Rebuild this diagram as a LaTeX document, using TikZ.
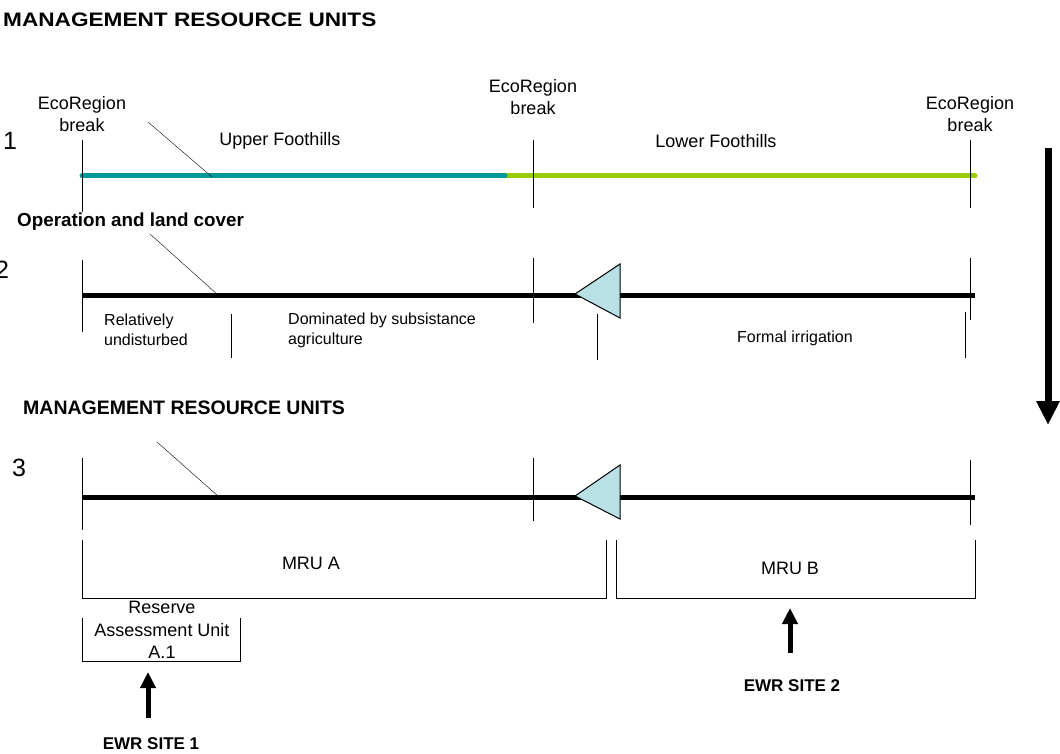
\documentclass[tikz,border=0pt]{standalone}
\usepackage{fontspec}
\setmainfont{Liberation Sans}
\usepackage{graphicx}
\usetikzlibrary{arrows.meta, positioning}

\definecolor{ecoteal}{RGB}{0,153,153}
\definecolor{ecogreen}{RGB}{153,204,0}
\definecolor{weirblue}{RGB}{185,224,228}

\tikzset{
  lbl/.style={inner sep=0pt, font=\fontsize{18}{22.5}\selectfont, align=center},
  small/.style={inner sep=0pt, font=\fontsize{16}{20}\selectfont, align=left, anchor=west},
  head/.style={inner sep=0pt, font=\fontsize{19.5}{23}\selectfont\bfseries, anchor=west},
  sitelbl/.style={inner sep=0pt, font=\fontsize{17}{20}\selectfont\bfseries},
  rownum/.style={inner sep=0pt, font=\fontsize{25}{30}\selectfont},
  tick/.style={line width=1pt},
  river/.style={line width=5pt},
  weir/.style={draw=black, line width=1pt, fill=weirblue},
  bracket/.style={line width=1pt},
  site/.style={line width=5pt, -{Triangle[width=15pt,length=16pt]}}
}

\begin{document}
\begin{tikzpicture}[x=1pt, y=-1pt]
\useasboundingbox (0,0) rectangle (1060,754);

        % Labels
        \node[head] at (3, 20)        (title1)  {\scalebox{1.16}[1]{MANAGEMENT RESOURCE UNITS}};
        \node[rownum] at (10, 141)    (num1)    {1};
        \node[lbl] at (82, 114)       (eco1)    {EcoRegion\\break};
        \node[lbl] at (533, 97)       (eco2)    {EcoRegion\\break};
        \node[lbl] at (970, 114)      (eco3)    {EcoRegion\\break};
        \node[lbl] at (280, 141)      (upper)   {Upper Foothills};
        \node[lbl] at (716, 141)      (lower)   {Lower Foothills};
        \node[head, font=\fontsize{18.8}{22}\selectfont\bfseries] at (17, 222) (opland) {Operation and land cover};
        \node[rownum] at (2, 270)     (num2)    {2};
        \node[small] at (104, 330)    (reldist) {Relatively\\undisturbed};
        \node[small] at (288, 330)    (domin)   {Dominated by subsistance\\agriculture};
        \node[small, anchor=center] at (795, 338) (formal) {Formal irrigation};
        \node[head] at (23, 408)      (title2)  {MANAGEMENT RESOURCE UNITS};
        \node[rownum] at (19, 468)    (num3)    {3};
        \node[lbl] at (311, 563)      (mrua)    {MRU A};
        \node[lbl] at (790, 568)      (mrub)    {MRU B};
        \node[lbl] at (162, 630)      (rau)     {Reserve\\Assessment Unit\\A.1};
        \node[sitelbl] at (151, 744)  (ewr1)    {EWR SITE 1};
        \node[sitelbl] at (792, 686)  (ewr2)    {EWR SITE 2};

        % Row 1
        \coordinate (r1a) at (82, 176);
        \coordinate (r1b) at (505, 176);
        \coordinate (r1c) at (975, 176);
        \coordinate (t1aT) at (82, 140);   \coordinate (t1aB) at (82, 212);
        \coordinate (t1bT) at (533, 140);  \coordinate (t1bB) at (533, 208);
        \coordinate (t1cT) at (970, 140);  \coordinate (t1cB) at (970, 208);
        \coordinate (l1a) at (148, 122);   \coordinate (l1b) at (212, 177);
\draw[river, ecogreen, line cap=round]  (r1b) -- (r1c);
\draw[river, ecoteal, line cap=round]   (r1a) -- (r1b);
\draw[tick]  (t1aT) edge (t1aB);
\draw[tick]  (t1bT) edge (t1bB);
\draw[tick]  (t1cT) edge (t1cB);
\draw[]      (l1a) edge (l1b);

        % Row 2
        \coordinate (r2a) at (82, 295);
        \coordinate (r2c) at (975, 295);
        \coordinate (t2aT) at (82, 260);   \coordinate (t2aB) at (82, 332);
        \coordinate (t2bT) at (533, 258);  \coordinate (t2bB) at (533, 323);
        \coordinate (t2cT) at (970, 258);  \coordinate (t2cB) at (970, 320);
        \coordinate (t2dT) at (231, 314);  \coordinate (t2dB) at (231, 358);
        \coordinate (t2eT) at (597, 314);  \coordinate (t2eB) at (597, 360);
        \coordinate (t2fT) at (965, 312);  \coordinate (t2fB) at (965, 358);
        \coordinate (l2a) at (150, 234);   \coordinate (l2b) at (218, 295);
        \coordinate (w2a) at (575, 294);   \coordinate (w2b) at (620, 264);   \coordinate (w2c) at (620, 318);
\draw[river]  (r2a) -- (r2c);
\draw[tick]  (t2aT) edge (t2aB);
\draw[tick]  (t2bT) edge (t2bB);
\draw[tick]  (t2cT) edge (t2cB);
\draw[tick]  (t2dT) edge (t2dB);
\draw[tick]  (t2eT) edge (t2eB);
\draw[tick]  (t2fT) edge (t2fB);
\draw[]      (l2a) edge (l2b);
\draw[weir]  (w2a) -- (w2b) -- (w2c) -- cycle;

        % Row 3
        \coordinate (r3a) at (82, 497);
        \coordinate (r3c) at (975, 497);
        \coordinate (t3aT) at (82, 458);   \coordinate (t3aB) at (82, 530);
        \coordinate (t3bT) at (533, 458);  \coordinate (t3bB) at (533, 521);
        \coordinate (t3cT) at (970, 460);  \coordinate (t3cB) at (970, 525);
        \coordinate (l3a) at (157, 442);   \coordinate (l3b) at (218, 496);
        \coordinate (w3a) at (575, 496);   \coordinate (w3b) at (620, 465);   \coordinate (w3c) at (620, 519);
\draw[river]  (r3a) -- (r3c);
\draw[tick]  (t3aT) edge (t3aB);
\draw[tick]  (t3bT) edge (t3bB);
\draw[tick]  (t3cT) edge (t3cB);
\draw[]      (l3a) edge (l3b);
\draw[weir]  (w3a) -- (w3b) -- (w3c) -- cycle;

        % Units
        \coordinate (ma1) at (82, 540);    \coordinate (ma2) at (82, 598);
        \coordinate (ma3) at (606, 598);   \coordinate (ma4) at (606, 540);
        \coordinate (mb1) at (616, 540);   \coordinate (mb2) at (616, 598);
        \coordinate (mb3) at (975, 598);   \coordinate (mb4) at (975, 540);
        \coordinate (ra1) at (82, 618);    \coordinate (ra2) at (82, 661);
        \coordinate (ra3) at (240, 661);   \coordinate (ra4) at (240, 618);
\draw[bracket]  (ma1) -- (ma2) -- (ma3) -- (ma4);
\draw[bracket]  (mb1) -- (mb2) -- (mb3) -- (mb4);
\draw[bracket]  (ra1) -- (ra2) -- (ra3) -- (ra4);

        % Sites and flow direction
        \coordinate (s1a) at (148, 718);   \coordinate (s1b) at (148, 672);
        \coordinate (s2a) at (790, 653);   \coordinate (s2b) at (790, 608);
        \coordinate (flowT) at (1048, 148);
        \coordinate (flowB) at (1048, 425);
\draw[site]  (s1a) -- (s1b);
\draw[site]  (s2a) -- (s2b);
\draw[line width=7pt, -{Triangle[width=22pt,length=24pt]}]  (flowT) -- (flowB);
\end{tikzpicture}
\end{document}
